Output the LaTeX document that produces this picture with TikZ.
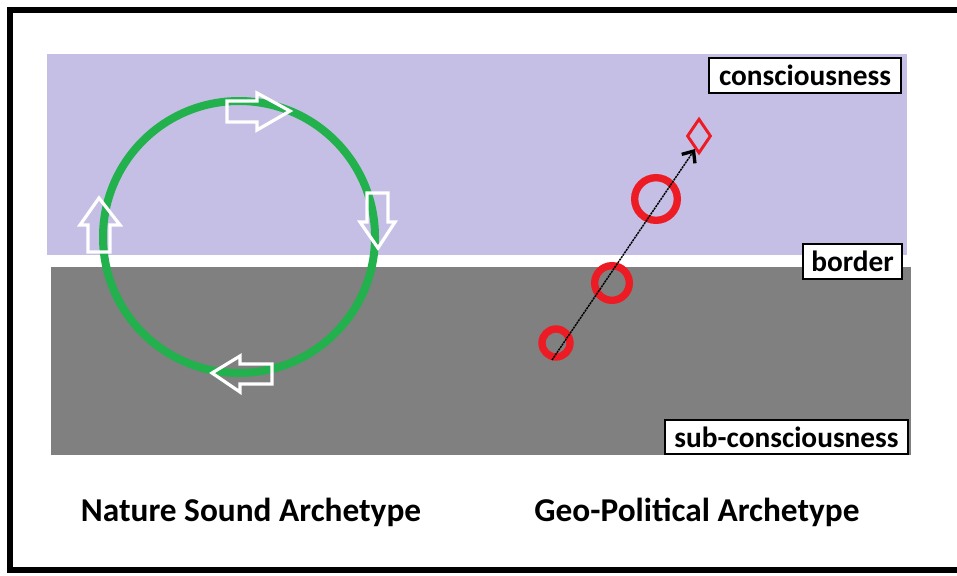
\documentclass[tikz,border=0pt]{standalone}
\usepackage{fontspec}
\setmainfont{Carlito}
\usetikzlibrary{arrows.meta,shapes.geometric}
\definecolor{lav}{RGB}{197,191,229}
\definecolor{grayband}{RGB}{128,128,128}
\definecolor{cgreen}{RGB}{34,177,76}
\definecolor{cred}{RGB}{237,28,36}
\tikzset{
  lbl/.style={draw=black, fill=white, line width=1.6pt, inner sep=0pt,
    font=\bfseries\fontsize{22}{25}\selectfont},
  title/.style={font=\bfseries\fontsize{25}{29}\selectfont, inner sep=0pt},
  blockarrow/.style={draw=white, line width=2.4pt, line join=miter},
  ring/.style={draw=cred, line width=5.5pt},
}
\begin{document}
\begin{tikzpicture}[x=0.75pt,y=-0.75pt]
\useasboundingbox (0,0) rectangle (957,575);
% frame
\draw[line width=4.5pt] (965,10) -- (10,10) -- (10,570) -- (965,570);
% bands
\fill[lav] (47,54) rectangle (907,255);
\fill[grayband] (51,267) rectangle (911,455);
% labels
\node[lbl, minimum width=144pt, minimum height=26pt] (cons) at (805,75.5) {consciousness};
\node[lbl, minimum width=74pt, minimum height=26pt] (bord) at (852.5,261.5) {border};
\node[lbl, minimum width=182pt, minimum height=25.5pt] (sub) at (786.5,437) {sub-consciousness};
% cycle
\node[draw=cgreen, line width=6pt, circle, minimum size=204pt, inner sep=0pt] (cyc) at (239,237) {};
% block arrows (outline only)
\draw[blockarrow] (227,101) -- (257,101) -- (257,93) -- (290,111) -- (257,130) -- (257,122) -- (227,122) -- cycle; % right
\draw[blockarrow] (367,193) -- (388,193) -- (388,222) -- (395,222) -- (378,248) -- (360,222) -- (367,222) -- cycle; % down
\draw[blockarrow] (272,364) -- (240,364) -- (240,356) -- (212,373) -- (240,392) -- (240,384) -- (272,384) -- cycle; % left
\draw[blockarrow] (88,252) -- (88,225) -- (80,225) -- (99,198) -- (120,225) -- (110,225) -- (110,252) -- cycle; % up
% geo-political
\node[ring, circle, minimum size=21pt, inner sep=0pt] (r1) at (556,343) {};
\node[ring, circle, minimum size=26pt, inner sep=0pt] (r2) at (612,283) {};
\node[ring, circle, minimum size=32pt, inner sep=0pt] (r3) at (656,199) {};
\node[draw=cred, line width=2.2pt, diamond, minimum width=18pt, minimum height=26pt, inner sep=0pt] (dia) at (699,136) {};
\coordinate (start) at (552,360);
\coordinate (tip) at (695,149);
\draw[line width=1.1pt, dash pattern=on 1.6pt off 0.6pt, -{Straight Barb[length=7pt,width=12pt,line width=2.5pt]}] (start) -- (tip);
% titles
\node[title] (t1) at (251,512) {Nature Sound Archetype};
\node[title] (t2) at (697,512) {Geo-Political Archetype};
\end{tikzpicture}
\end{document}
